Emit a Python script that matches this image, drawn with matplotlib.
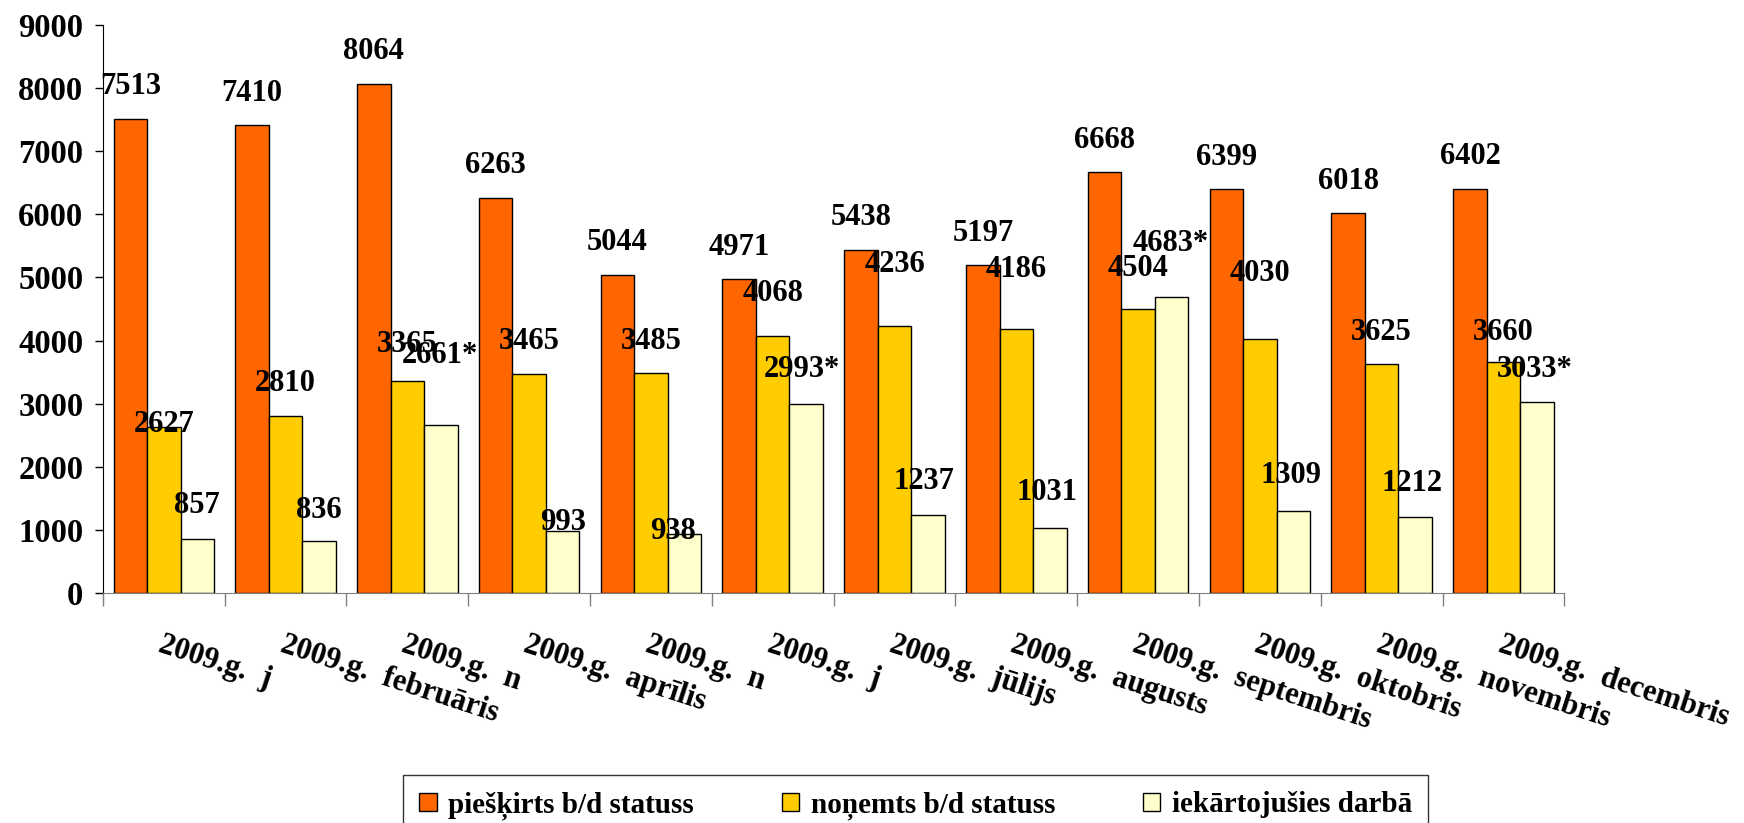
import matplotlib.pyplot as plt
import numpy as np

# data
months = ["2009.g.  j", "2009.g.  februāris", "2009.g.  n", "2009.g.  aprīlis",
          "2009.g.  n", "2009.g.  j", "2009.g.  jūlijs", "2009.g.  augusts",
          "2009.g.  septembris", "2009.g.  oktobris", "2009.g.  novembris",
          "2009.g.  decembris"]
granted = [7513, 7410, 8064, 6263, 5044, 4971, 5438, 5197, 6668, 6399, 6018, 6402]
removed = [2627, 2810, 3365, 3465, 3485, 4068, 4236, 4186, 4504, 4030, 3625, 3660]
employed = [857, 836, 2661, 993, 938, 2993, 1237, 1031, 4683, 1309, 1212, 3033]
employed_marks = ["", "", "*", "", "", "*", "", "", "*", "", "", "*"]

series_names = ["piešķirts b/d statuss", "noņemts b/d statuss", "iekārtojušies darbā"]
colors = ["#FF6600", "#FFCC00", "#FFFFCC"]

# label offsets above bar tops (points), matching hand-placed labels
off_granted = [23] * 12
off_removed = [2, 23, 26, 24, 23, 31, 44, 43, 29, 47, 23, 21]
off_employed = [24, 22, 50, 6, 2, 25, 24, 26, 39, 25, 24, 23]
dx_employed = [0, 0, -1, 0, -8, -3, -3, -2, -1, -2, -2, -2]

plt.rcParams['font.family'] = ['Liberation Serif', 'DejaVu Serif']
plt.rcParams['font.weight'] = 'bold'
fs = 22

fig = plt.figure(figsize=(17.44, 8.23), dpi=100)
ax = fig.add_axes([0.059, 0.279, 0.838, 0.691])

x = np.arange(len(months))
w = 0.275
all_series = [granted, removed, employed]
offsets = [off_granted, off_removed, off_employed]
for k, vals in enumerate(all_series):
    pos = x + (k - 1) * w
    ax.bar(pos, vals, width=w, color=colors[k], edgecolor='black',
           linewidth=1, label=series_names[k], zorder=2)
    for i, v in enumerate(vals):
        txt = str(v) + (employed_marks[i] if k == 2 else "")
        dx = dx_employed[i] if k == 2 else 0
        ax.annotate(txt, (pos[i], v), xytext=(dx, offsets[k][i]),
                    textcoords='offset points', ha='center', va='center',
                    fontsize=fs, fontweight='bold', zorder=3)

ax.set_xlim(-0.5, len(months) - 0.5)
ax.set_ylim(0, 9000)
ax.set_yticks(np.arange(0, 9001, 1000))
ax.tick_params(axis='y', labelsize=23.5, length=6, width=1, direction='out', pad=8)

# category labels at group centres, ticks at group boundaries
ax.set_xticks(x)
ax.set_xticklabels(months, rotation=-18, ha='left', va='top',
                   rotation_mode='anchor', fontsize=fs)
ax.tick_params(axis='x', which='major', length=0, pad=27)
ax.set_xticks(np.arange(-0.5, len(months), 1), minor=True)
ax.tick_params(axis='x', which='minor', length=9, width=1, color='#808080')

for s in ['top', 'right']:
    ax.spines[s].set_visible(False)
ax.spines['bottom'].set_color('#808080')
ax.spines['left'].set_color('black')

leg = fig.legend(loc='upper center', bbox_to_anchor=(0.525, 0.058), ncol=3,
                 fontsize=21, frameon=True, fancybox=False, edgecolor='black',
                 handlelength=0.6, handleheight=0.6, handletextpad=0.4,
                 columnspacing=3.0, borderpad=0.55, borderaxespad=0)
leg.get_frame().set_linewidth(1)

fig.savefig("out.png", dpi=100)
